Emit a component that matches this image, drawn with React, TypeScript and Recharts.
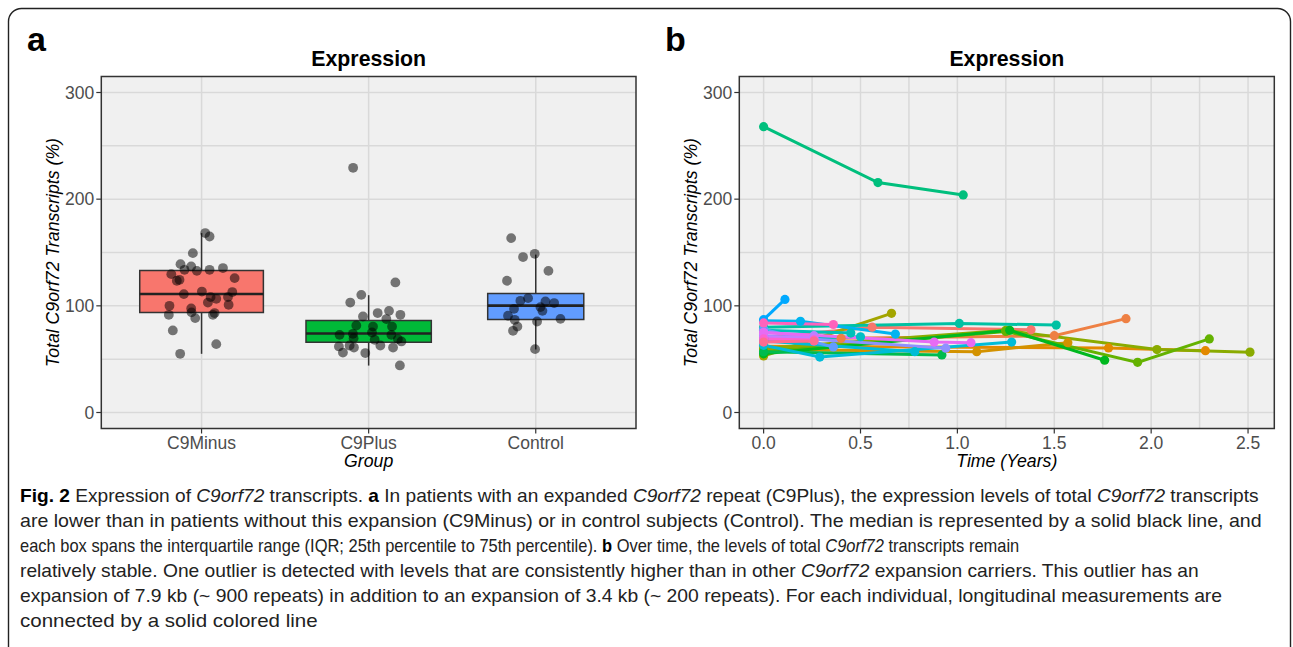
import React, { useLayoutEffect, useRef, useState } from 'react';
import {
  ComposedChart,
  LineChart,
  Line,
  Scatter,
  XAxis,
  YAxis,
  CartesianGrid,
  ReferenceArea,
  ReferenceLine,
} from 'recharts';

// ---------- Panel a : boxplot data ----------
const groups = ['C9Minus', 'C9Plus', 'Control'];
const groupColors = ['#F8766D', '#00BA38', '#619CFF'];
const boxQ1 = [93.7, 65.8, 87.2];
const boxMedian = [111.1, 74.0, 100.2];
const boxQ3 = [133.1, 86.3, 111.6];
const whiskerLow = [55.0, 44.0, 59.1];
const whiskerHigh = [168.2, 110.0, 148.0];
const boxHalfWidth = [0.37, 0.375, 0.2875];

const c9MinusPoints = [
  { x: 1.022, y: 168.2 }, { x: 1.048, y: 165.0 }, { x: 0.948, y: 149.4 }, { x: 0.874, y: 139.1 },
  { x: 0.938, y: 136.9 }, { x: 1.048, y: 133.8 }, { x: 1.128, y: 135.4 }, { x: 0.898, y: 133.8 },
  { x: 0.972, y: 132.8 }, { x: 0.819, y: 129.7 }, { x: 1.198, y: 126.0 }, { x: 0.868, y: 124.4 },
  { x: 0.852, y: 123.5 }, { x: 1.002, y: 113.4 }, { x: 0.894, y: 111.0 }, { x: 1.184, y: 112.9 },
  { x: 1.054, y: 108.2 }, { x: 1.088, y: 106.6 }, { x: 1.158, y: 108.2 }, { x: 1.038, y: 103.1 },
  { x: 1.162, y: 101.0 }, { x: 0.808, y: 100.0 }, { x: 0.938, y: 97.5 }, { x: 0.940, y: 93.9 },
  { x: 0.804, y: 91.6 }, { x: 1.068, y: 91.6 }, { x: 0.962, y: 88.5 }, { x: 1.078, y: 93.2 },
  { x: 0.828, y: 76.9 }, { x: 1.088, y: 64.1 }, { x: 0.872, y: 55.0 },
];
const c9PlusPoints = [
  { x: 1.907, y: 229.4 }, { x: 2.160, y: 121.9 }, { x: 1.956, y: 110.3 }, { x: 1.890, y: 103.1 },
  { x: 2.054, y: 93.2 }, { x: 2.122, y: 95.3 }, { x: 2.190, y: 91.6 }, { x: 1.966, y: 90.0 },
  { x: 2.106, y: 87.6 }, { x: 1.926, y: 81.6 }, { x: 2.026, y: 80.6 }, { x: 2.140, y: 80.6 },
  { x: 1.826, y: 72.8 }, { x: 1.906, y: 73.8 }, { x: 2.020, y: 75.0 }, { x: 2.136, y: 72.8 },
  { x: 1.910, y: 69.7 }, { x: 2.036, y: 68.2 }, { x: 2.175, y: 68.8 }, { x: 2.196, y: 66.6 },
  { x: 1.822, y: 61.9 }, { x: 1.886, y: 62.8 }, { x: 1.912, y: 60.9 }, { x: 2.070, y: 62.8 },
  { x: 2.146, y: 60.9 }, { x: 1.846, y: 56.2 }, { x: 1.980, y: 55.7 }, { x: 2.187, y: 44.1 },
];
const controlPoints = [
  { x: 2.853, y: 163.5 }, { x: 2.924, y: 145.7 }, { x: 2.994, y: 148.8 }, { x: 3.076, y: 132.8 },
  { x: 2.828, y: 123.5 }, { x: 2.908, y: 104.7 }, { x: 2.954, y: 107.2 }, { x: 3.058, y: 104.1 },
  { x: 3.110, y: 102.6 }, { x: 2.870, y: 97.2 }, { x: 3.028, y: 98.8 }, { x: 3.040, y: 95.3 },
  { x: 2.834, y: 90.7 }, { x: 2.874, y: 86.9 }, { x: 3.008, y: 85.3 }, { x: 3.148, y: 87.8 },
  { x: 2.890, y: 80.6 }, { x: 2.864, y: 76.6 }, { x: 2.996, y: 59.4 },
];

const yTicks = [0, 100, 200, 300];
const yGridValues = [0, 50, 100, 150, 200, 250, 300];
const groupTicks = [1, 2, 3];

// ---------- Panel b : longitudinal data (t in years, v in %) ----------
const timeTicks = [0, 0.5, 1, 1.5, 2, 2.5];
const timeGridValues = [0, 0.25, 0.5, 0.75, 1, 1.25, 1.5, 1.75, 2, 2.25, 2.5];

const p01 = [{ t: 0, v: 70 }, { t: 0.56, v: 80 }, { t: 1.38, v: 77.5 }];
const p02 = [{ t: 0, v: 66 }, { t: 0.40, v: 69.5 }, { t: 1.50, v: 72 }, { t: 1.87, v: 88 }];
const p03 = [{ t: 0, v: 62 }, { t: 1.78, v: 60.5 }, { t: 2.28, v: 58 }];
const p04 = [{ t: 0, v: 59 }, { t: 1.10, v: 57 }, { t: 1.57, v: 65.5 }];
const p05 = [{ t: 0, v: 53 }, { t: 0.66, v: 93 }];
const p06 = [{ t: 0, v: 60 }, { t: 1.25, v: 77 }, { t: 2.03, v: 59 }, { t: 2.51, v: 56.6 }];
const p07 = [{ t: 0, v: 57 }, { t: 1.25, v: 76 }, { t: 1.93, v: 47 }, { t: 2.30, v: 69 }];
const p08 = [{ t: 0, v: 55 }, { t: 1.27, v: 77 }, { t: 1.76, v: 49 }];
const p09 = [{ t: 0, v: 57 }, { t: 0.92, v: 54 }];
const p10 = [{ t: 0, v: 268 }, { t: 0.59, v: 215.6 }, { t: 1.03, v: 204 }];
const p11 = [{ t: 0, v: 80 }, { t: 1.01, v: 83.5 }, { t: 1.51, v: 82 }];
const p12 = [{ t: 0, v: 77 }, { t: 0.45, v: 74.5 }];
const p13 = [{ t: 0, v: 69 }, { t: 0.50, v: 71 }];
const p14 = [{ t: 0, v: 67 }, { t: 0.78, v: 57 }];
const p15 = [{ t: 0, v: 63 }, { t: 0.29, v: 52 }, { t: 1.28, v: 66 }];
const p16 = [{ t: 0, v: 86 }, { t: 0.19, v: 85.5 }, { t: 0.68, v: 73.5 }];
const p17 = [{ t: 0, v: 87 }, { t: 0.11, v: 106 }];
const p18 = [{ t: 0, v: 78 }, { t: 0.36, v: 61.5 }];
const p19 = [{ t: 0, v: 72 }, { t: 0.94, v: 60.3 }];
const p20 = [{ t: 0, v: 75 }, { t: 0.26, v: 72 }];
const p21 = [{ t: 0, v: 71 }, { t: 0.26, v: 70 }];
const p22 = [{ t: 0, v: 75 }, { t: 0.88, v: 66 }, { t: 1.07, v: 65.5 }];
const p23 = [{ t: 0, v: 69 }, { t: 0.26, v: 68 }];
const p24 = [{ t: 0, v: 84 }, { t: 0.36, v: 82.5 }];
const p25 = [{ t: 0, v: 66 }, { t: 0.26, v: 67 }];

const individuals = [p01, p02, p03, p04, p05, p06, p07, p08, p09, p10, p11, p12, p13, p14, p15, p16, p17, p18, p19, p20, p21, p22, p23, p24, p25];
const individualColors = [
  '#F8766D', '#EE8044', '#E38900', '#D39200', '#A3A500', '#8AAB00', '#64B200', '#00B81F',
  '#00BB4E', '#00BF7D', '#00C1A3', '#00C0B8', '#00BFC4', '#00BCD6', '#00BCD8', '#00B4F0',
  '#00A9FF', '#619CFF', '#8F91FF', '#B983FF', '#C77CFF', '#E76BF3', '#FD61D1', '#FF62BC', '#FF6C91',
];

const FONT = '"Liberation Sans", Arial, Helvetica, sans-serif';
const CAPFONT = '"Liberation Sans Narrow", "Liberation Sans", Arial, sans-serif';

const tickStyle = { fill: '#4D4D4D', fontSize: 17.5, fontFamily: FONT };
const tickLineStyle = { stroke: '#333333', strokeWidth: 1.2 };

const Dot = (props: any) => {
  const { cx, cy } = props;
  if (cx == null || cy == null) return null;
  return <circle cx={cx} cy={cy} r={4.9} fill="#000" fillOpacity={0.52} />;
};

const It = ({ children }: { children: React.ReactNode }) => <span style={{ fontStyle: 'italic' }}>{children}</span>;
const Bd = ({ children }: { children: React.ReactNode }) => <span style={{ fontWeight: 'bold', color: '#000' }}>{children}</span>;

function CaptionLine({ top, width, children }: { top: number; width: number; children: React.ReactNode }) {
  const ref = useRef<HTMLDivElement>(null);
  const [scale, setScale] = useState(1);
  useLayoutEffect(() => {
    const el = ref.current;
    if (el) {
      const w = el.scrollWidth;
      if (w > 0) setScale(width / w);
    }
  }, [width]);
  return (
    <div
      ref={ref}
      style={{
        position: 'absolute', left: 20, top, whiteSpace: 'nowrap', fontFamily: CAPFONT, fontSize: 19,
        lineHeight: '22px', color: '#222', transform: `scaleX(${scale})`, transformOrigin: '0 0',
      }}
    >
      {children}
    </div>
  );
}

export default function App() {
  const allPoints = [...c9MinusPoints, ...c9PlusPoints, ...controlPoints];
  return (
    <div style={{ position: 'absolute', left: 0, top: 0, width: 1293, height: 647, overflow: 'hidden', background: '#fff' }}>
      {/* Panel a */}
      <div style={{ position: 'absolute', left: 0, top: 0 }}>
        <ComposedChart width={650} height={480} margin={{ top: 76.5, right: 14, left: 0, bottom: 0 }}>
          <CartesianGrid fill="#F0F0F0" stroke="#D9D9D9" strokeWidth={1.5}
            horizontalValues={yGridValues} verticalValues={groupTicks} />
          <XAxis type="number" dataKey="x" domain={[0.4, 3.6]} ticks={groupTicks} interval={0}
            allowDataOverflow tickFormatter={(v: number) => groups[Math.round(v) - 1]}
            height={51.5} axisLine={false} tick={tickStyle} tickLine={tickLineStyle} tickSize={5} tickMargin={3} />
          <YAxis type="number" dataKey="y" domain={[-15, 315]} ticks={yTicks} interval={0} allowDataOverflow
            width={101.3} axisLine={false} tick={tickStyle} tickLine={tickLineStyle} tickSize={5} tickMargin={2} />
          {groups.map((g, i) => (
            <ReferenceLine key={'wl' + g} segment={[{ x: i + 1, y: whiskerLow[i] }, { x: i + 1, y: boxQ1[i] }]}
              stroke="#333" strokeWidth={1.5} ifOverflow="visible" />
          ))}
          {groups.map((g, i) => (
            <ReferenceLine key={'wh' + g} segment={[{ x: i + 1, y: boxQ3[i] }, { x: i + 1, y: whiskerHigh[i] }]}
              stroke="#333" strokeWidth={1.5} ifOverflow="visible" />
          ))}
          {groups.map((g, i) => (
            <ReferenceArea key={'box' + g} x1={i + 1 - boxHalfWidth[i]} x2={i + 1 + boxHalfWidth[i]}
              y1={boxQ1[i]} y2={boxQ3[i]} fill={groupColors[i]} fillOpacity={1} stroke="#333" strokeWidth={1.5}
              ifOverflow="visible" />
          ))}
          {groups.map((g, i) => (
            <ReferenceLine key={'med' + g}
              segment={[{ x: i + 1 - boxHalfWidth[i], y: boxMedian[i] }, { x: i + 1 + boxHalfWidth[i], y: boxMedian[i] }]}
              stroke="#222" strokeWidth={2.6} ifOverflow="visible" />
          ))}
          <Scatter data={allPoints} dataKey="y" shape={<Dot />} isAnimationActive={false} />
        </ComposedChart>
      </div>

      {/* Panel b */}
      <div style={{ position: 'absolute', left: 640, top: 0 }}>
        <LineChart width={650} height={480} margin={{ top: 76.5, right: 15.7, left: 0, bottom: 0 }}>
          <CartesianGrid fill="#F0F0F0" stroke="#D9D9D9" strokeWidth={1.5}
            horizontalValues={yGridValues} verticalValues={timeGridValues} />
          <XAxis type="number" dataKey="t" domain={[-0.1255, 2.6355]} ticks={timeTicks} interval={0}
            allowDataOverflow tickFormatter={(v: number) => v.toFixed(1)}
            height={51.5} axisLine={false} tick={tickStyle} tickLine={tickLineStyle} tickSize={5} tickMargin={3} />
          <YAxis type="number" domain={[-15, 315]} ticks={yTicks} interval={0} allowDataOverflow
            width={99.3} axisLine={false} tick={tickStyle} tickLine={tickLineStyle} tickSize={5} tickMargin={2} />
          {individuals.map((pts, i) => (
            <Line key={i} data={pts} dataKey="v" type="linear" stroke={individualColors[i]} strokeWidth={3}
              dot={{ r: 4.6, fill: individualColors[i], stroke: individualColors[i], strokeWidth: 0 }}
              activeDot={false} isAnimationActive={false} />
          ))}
        </LineChart>
      </div>

      {/* Overlay: borders, titles, axis labels */}
      <svg width={1293} height={647} style={{ position: 'absolute', left: 0, top: 0, pointerEvents: 'none' }}>
        <rect x={8.5} y={8.5} width={1282} height={700} rx={13} ry={13} fill="none" stroke="#222" strokeWidth={1.4} />
        <rect x={101.3} y={76.5} width={534.7} height={352} fill="none" stroke="#333" strokeWidth={1.5} />
        <rect x={739.3} y={76.5} width={535} height={352} fill="none" stroke="#333" strokeWidth={1.5} />

        <text x={27} y={51} fontFamily={FONT} fontWeight="bold" fontSize={34} fill="#000">a</text>
        <text x={665} y={51} fontFamily={FONT} fontWeight="bold" fontSize={34} fill="#000">b</text>

        <text x={368.7} y={66} textAnchor="middle" fontFamily={FONT} fontWeight="bold" fontSize={21.3} fill="#000">Expression</text>
        <text x={1006.8} y={66} textAnchor="middle" fontFamily={FONT} fontWeight="bold" fontSize={21.3} fill="#000">Expression</text>

        <text x={368.7} y={466.5} textAnchor="middle" fontFamily={FONT} fontStyle="italic" fontSize={17.7} fill="#000">Group</text>
        <text x={1006.8} y={466.5} textAnchor="middle" fontFamily={FONT} fontStyle="italic" fontSize={17.7} fill="#000">Time (Years)</text>

        <text transform="translate(58.5,252.5) rotate(-90)" textAnchor="middle" fontFamily={FONT} fontStyle="italic" fontSize={17.7} fill="#000">Total C9orf72 Transcripts (%)</text>
        <text transform="translate(696.5,252.5) rotate(-90)" textAnchor="middle" fontFamily={FONT} fontStyle="italic" fontSize={17.7} fill="#000">Total C9orf72 Transcripts (%)</text>
      </svg>

      {/* Caption */}
      <CaptionLine top={484.5} width={1239}>
        <Bd>Fig. 2</Bd> Expression of <It>C9orf72</It> transcripts. <Bd>a</Bd> In patients with an expanded <It>C9orf72</It> repeat (C9Plus), the expression levels of total <It>C9orf72</It> transcripts
      </CaptionLine>
      <CaptionLine top={509.5} width={1242}>
        are lower than in patients without this expansion (C9Minus) or in control subjects (Control). The median is represented by a solid black line, and
      </CaptionLine>
      <CaptionLine top={534.5} width={999}>
        each box spans the interquartile range (IQR; 25th percentile to 75th percentile). <Bd>b</Bd> Over time, the levels of total <It>C9orf72</It> transcripts remain
      </CaptionLine>
      <CaptionLine top={559.5} width={1179}>
        relatively stable. One outlier is detected with levels that are consistently higher than in other <It>C9orf72</It> expansion carriers. This outlier has an
      </CaptionLine>
      <CaptionLine top={584.5} width={1202}>
        expansion of 7.9 kb (~ 900 repeats) in addition to an expansion of 3.4 kb (~ 200 repeats). For each individual, longitudinal measurements are
      </CaptionLine>
      <CaptionLine top={609.5} width={298}>
        connected by a solid colored line
      </CaptionLine>
    </div>
  );
}
